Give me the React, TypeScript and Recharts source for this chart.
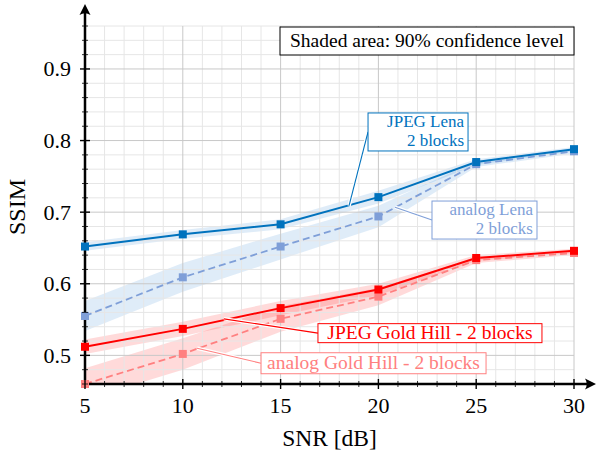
import {
  ComposedChart,
  Line,
  Area,
  XAxis,
  YAxis,
  ReferenceLine,
  ReferenceDot,
} from "recharts";

// SNR steps and measured SSIM values
const snr = [5, 10, 15, 20, 25, 30];
const jpegLena = [0.652, 0.669, 0.683, 0.721, 0.77, 0.788];
const analogLena = [0.555, 0.609, 0.652, 0.694, 0.767, 0.785];
const jpegGoldHill = [0.512, 0.537, 0.566, 0.592, 0.636, 0.646];
const analogGoldHill = [0.46, 0.502, 0.551, 0.582, 0.633, 0.643];

// half width of the 90% confidence band
const jpegLenaCi = [0.006, 0.006, 0.007, 0.009, 0.004, 0.003];
const analogLenaCi = [0.021, 0.02, 0.018, 0.015, 0.004, 0.003];
const jpegGoldHillCi = [0.01, 0.01, 0.01, 0.008, 0.004, 0.003];
const analogGoldHillCi = [0.022, 0.022, 0.018, 0.012, 0.004, 0.003];

const xMajorTicks = [5, 10, 15, 20, 25, 30];
const yMajorTicks = [0.5, 0.6, 0.7, 0.8, 0.9];
const xMinorTicks = Array.from({ length: 26 }, (_, i) => 5 + i);
const yMinorTicks = Array.from({ length: 26 }, (_, i) => +(0.46 + i * 0.02).toFixed(2));

const noteTexts = [
  ["JPEG Lena", "2 blocks"],
  ["analog Lena", "2 blocks"],
  ["JPEG Gold Hill - 2 blocks"],
  ["analog Gold Hill - 2 blocks"],
];
const boxText = "Shaded area: 90% confidence level";

const C_JL = "#0072bd";
const C_AL = "#7f9fd8";
const C_JG = "#ff0000";
const C_AG = "#ff8080";
const FONT = "Liberation Serif";

const band = (v: number[], ci: number[], i: number) => [
  +(v[i] - ci[i]).toFixed(3),
  +(v[i] + ci[i]).toFixed(3),
];

const rows = snr.map((s, i) => ({
  snr: s,
  jpegLena: jpegLena[i],
  analogLena: analogLena[i],
  jpegGoldHill: jpegGoldHill[i],
  analogGoldHill: analogGoldHill[i],
  jpegLenaBand: band(jpegLena, jpegLenaCi, i),
  analogLenaBand: band(analogLena, analogLenaCi, i),
  jpegGoldHillBand: band(jpegGoldHill, jpegGoldHillCi, i),
  analogGoldHillBand: band(analogGoldHill, analogGoldHillCi, i),
}));

// leader line start (on the curve) and box anchor (left-middle of box), data coords
const notes = [
  { from: { x: 18.5, y: 0.709 }, to: { x: 19.47, y: 0.812 }, color: C_JL, w: 100, h: 38 },
  { from: { x: 20.85, y: 0.707 }, to: { x: 22.74, y: 0.689 }, color: C_AL, w: 105, h: 38 },
  { from: { x: 12.1, y: 0.551 }, to: { x: 16.91, y: 0.531 }, color: C_JG, w: 224, h: 19 },
  { from: { x: 10.73, y: 0.51 }, to: { x: 14.0, y: 0.489 }, color: C_AG, w: 225, h: 21 },
];

const isMajor = (list: number[], v: number) => list.some((m) => Math.abs(m - v) < 1e-6);

function XTick(props: any) {
  const { x, y, payload } = props;
  const major = isMajor(xMajorTicks, payload.value);
  const len = major ? 5 : 3;
  return (
    <g>
      <line x1={x} x2={x} y1={y - len} y2={y + len} stroke="#000" strokeWidth={major ? 1.4 : 0.8} />
      {major && (
        <text x={x} y={y + 29} textAnchor="middle" fontFamily={FONT} fontSize={22} fill="#000">
          {payload.value}
        </text>
      )}
    </g>
  );
}

function YTick(props: any) {
  const { x, y, payload } = props;
  const major = isMajor(yMajorTicks, payload.value);
  const len = major ? 5 : 3;
  return (
    <g>
      <line x1={x - len} x2={x + len} y1={y} y2={y} stroke="#000" strokeWidth={major ? 1.4 : 0.8} />
      {major && (
        <text x={x - 14} y={y + 7.5} textAnchor="end" fontFamily={FONT} fontSize={22} fill="#000">
          {payload.value.toFixed(1)}
        </text>
      )}
    </g>
  );
}

const square = (color: string) => (p: any) => (
  <rect key={p.index} x={p.cx - 4} y={p.cy - 4} width={8} height={8} fill={color} />
);

function NoteBox({ cx, cy, lines, color, w, h }: any) {
  const top = cy - h / 2;
  const two = lines.length > 1;
  return (
    <g>
      <rect x={cx} y={top} width={w} height={h} fill="#fff" stroke={color} strokeWidth={1} />
      {two ? (
        <>
          <text x={cx + w - 4} y={top + 14} textAnchor="end" fontFamily={FONT} fontSize={17} fill={color}>
            {lines[0]}
          </text>
          <text x={cx + w - 4} y={top + 33} textAnchor="end" fontFamily={FONT} fontSize={17} fill={color}>
            {lines[1]}
          </text>
        </>
      ) : (
        <text x={cx + w / 2} y={top + h / 2 + 6} textAnchor="middle" fontFamily={FONT} fontSize={19.5} fill={color}>
          {lines[0]}
        </text>
      )}
    </g>
  );
}

function CornerBox({ cx, cy }: any) {
  const w = 294;
  const h = 28;
  return (
    <g>
      <rect x={cx - w} y={cy + 1} width={w} height={h} fill="#fff" stroke="#000" strokeWidth={1} />
      <text x={cx - w / 2} y={cy + 21} textAnchor="middle" fontFamily={FONT} fontSize={19.5} fill="#000">
        {boxText}
      </text>
    </g>
  );
}

export default function App() {
  return (
    <div style={{ position: "absolute", left: 0, top: 0 }}>
      <svg width={0} height={0} style={{ position: "absolute" }}>
        <defs>
          <marker
            id="axisArrow"
            markerUnits="userSpaceOnUse"
            markerWidth={30}
            markerHeight={16}
            viewBox="0 0 30 16"
            refX={0}
            refY={8}
            orient="auto-start-reverse"
          >
            <path d="M0,8 H16" stroke="#000" strokeWidth={2.5} />
            <path d="M22,8 L11,2.5 Q14.5,8 11,13.5 Z" fill="#000" />
          </marker>
        </defs>
      </svg>
      <ComposedChart width={597} height={456} data={rows} margin={{ top: 26, right: 23, bottom: 0, left: 0 }}>
        <XAxis
          dataKey="snr"
          type="number"
          domain={[5, 30]}
          ticks={xMinorTicks}
          interval={0}
          tickSize={0}
          tickMargin={0}
          tickLine={false}
          tick={<XTick />}
          height={72}
          axisLine={{ stroke: "#000", strokeWidth: 2.5, markerEnd: "url(#axisArrow)" }}
          label={{
            value: "SNR [dB]",
            content: (p: any) => {
              const vb = p.viewBox;
              return (
                <text x={vb.x + vb.width / 2} y={vb.y + 62} textAnchor="middle" fontFamily={FONT} fontSize={23.5} fill="#000">
                  SNR [dB]
                </text>
              );
            },
          }}
        />
        <YAxis
          type="number"
          domain={[0.46, 0.96]}
          ticks={yMinorTicks}
          interval={0}
          tickSize={0}
          tickMargin={0}
          tickLine={false}
          tick={<YTick />}
          width={85}
          axisLine={{ stroke: "#000", strokeWidth: 2.5, markerStart: "url(#axisArrow)" }}
          label={{
            value: "SSIM",
            content: (p: any) => {
              const vb = p.viewBox;
              const cx = vb.x + 25;
              const cy = vb.y + vb.height / 2 + 2;
              return (
                <text x={cx} y={cy} transform={`rotate(-90 ${cx} ${cy})`} textAnchor="middle" fontFamily={FONT} fontSize={24} fill="#000">
                  SSIM
                </text>
              );
            },
          }}
        />
        <YAxis yAxisId="band" hide type="number" domain={[0.46, 0.96]} allowDataOverflow />

        {xMinorTicks.filter((v) => !isMajor(xMajorTicks, v)).map((v) => (
          <ReferenceLine key={"xm" + v} x={v} stroke="#e6e6e6" strokeWidth={1} />
        ))}
        {yMinorTicks.filter((v) => !isMajor(yMajorTicks, v)).map((v) => (
          <ReferenceLine key={"ym" + v} y={v} stroke="#e6e6e6" strokeWidth={1} />
        ))}
        {xMajorTicks.map((v) => (
          <ReferenceLine key={"xM" + v} x={v} stroke="#c8c8c8" strokeWidth={1} />
        ))}
        {yMajorTicks.map((v) => (
          <ReferenceLine key={"yM" + v} y={v} stroke="#c8c8c8" strokeWidth={1} />
        ))}

        <Area yAxisId="band" type="linear" dataKey="analogLenaBand" stroke="none" fill="#2a7fd0" fillOpacity={0.15} isAnimationActive={false} />
        <Area yAxisId="band" type="linear" dataKey="jpegLenaBand" stroke="none" fill="#2a7fd0" fillOpacity={0.15} isAnimationActive={false} />
        <Area yAxisId="band" type="linear" dataKey="analogGoldHillBand" stroke="none" fill="#ff3030" fillOpacity={0.18} isAnimationActive={false} />
        <Area yAxisId="band" type="linear" dataKey="jpegGoldHillBand" stroke="none" fill="#ff3030" fillOpacity={0.18} isAnimationActive={false} />

        <Line type="linear" dataKey="analogLena" stroke={C_AL} strokeWidth={1.8} strokeDasharray="7 4" dot={square(C_AL)} activeDot={false} isAnimationActive={false} />
        <Line type="linear" dataKey="jpegLena" stroke={C_JL} strokeWidth={2} dot={square(C_JL)} activeDot={false} isAnimationActive={false} />
        <Line type="linear" dataKey="analogGoldHill" stroke={C_AG} strokeWidth={1.8} strokeDasharray="7 4" dot={square(C_AG)} activeDot={false} isAnimationActive={false} />
        <Line type="linear" dataKey="jpegGoldHill" stroke={C_JG} strokeWidth={2} dot={square(C_JG)} activeDot={false} isAnimationActive={false} />

        {notes.map((n, i) => (
          <ReferenceLine key={"halo" + i} segment={[n.from, n.to]} stroke="#fff" strokeWidth={3.5} ifOverflow="visible" />
        ))}
        {notes.map((n, i) => (
          <ReferenceLine key={"lead" + i} segment={[n.from, n.to]} stroke={n.color} strokeWidth={1.1} ifOverflow="visible" />
        ))}
        {notes.map((n, i) => (
          <ReferenceDot
            key={"box" + i}
            x={n.to.x}
            y={n.to.y}
            ifOverflow="visible"
            shape={(p: any) => <NoteBox cx={p.cx} cy={p.cy} lines={noteTexts[i]} color={n.color} w={n.w} h={n.h} />}
          />
        ))}
        <ReferenceDot x={30} y={0.96} ifOverflow="visible" shape={(p: any) => <CornerBox cx={p.cx} cy={p.cy} />} />
      </ComposedChart>
    </div>
  );
}
